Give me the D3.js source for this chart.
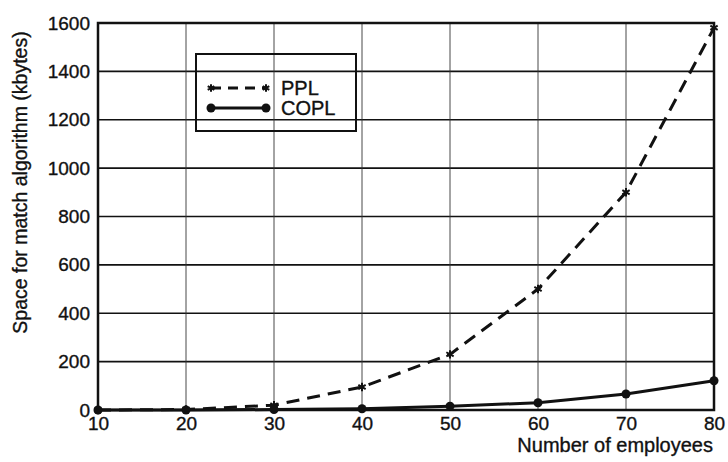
<!DOCTYPE html>
<html><head><meta charset="utf-8">
<script src="https://cdn.jsdelivr.net/npm/d3@7"></script>
<style>body{margin:0;background:#fff}svg{display:block}text{font-family:"Liberation Sans",Arial,sans-serif;fill:#111;stroke:#111;stroke-width:0.35px}</style>
</head><body><svg id="c" width="728" height="462"></svg>
<script>
const employees = [10, 20, 30, 40, 50, 60, 70, 80];
const ppl = [0, 2, 20, 95, 230, 500, 900, 1580];
const copl = [0, 0, 2, 5, 16, 30, 66, 121];
const xTicks = [10, 20, 30, 40, 50, 60, 70, 80];
const yTicks = [0, 200, 400, 600, 800, 1000, 1200, 1400, 1600];
const seriesNames = ["PPL", "COPL"];

const svg = d3.select("#c");
const m = {l: 98, r: 714, t: 23, b: 410};
const x = d3.scaleLinear().domain([10, 80]).range([m.l, m.r]);
const y = d3.scaleLinear().domain([0, 1600]).range([m.b, m.t]);
const FF = "Liberation Sans, Arial, sans-serif";

// gridlines
svg.append("g").selectAll("line").data(yTicks.slice(1, -1)).join("line")
  .attr("x1", m.l).attr("x2", m.r).attr("y1", d => y(d)).attr("y2", d => y(d))
  .attr("stroke", "#111").attr("stroke-width", 1.6);
svg.append("g").selectAll("line").data(xTicks.slice(1, -1)).join("line")
  .attr("y1", m.t).attr("y2", m.b).attr("x1", d => x(d)).attr("x2", d => x(d))
  .attr("stroke", "#333").attr("stroke-width", 0.9);

// frame
svg.append("rect").attr("x", m.l).attr("y", m.t).attr("width", m.r - m.l).attr("height", m.b - m.t)
  .attr("fill", "none").attr("stroke", "#111").attr("stroke-width", 2.5);

// axes (labels only)
const xa = svg.append("g").attr("transform", `translate(0,${m.b})`)
  .call(d3.axisBottom(x).tickValues(xTicks).tickSize(0).tickPadding(7).tickFormat(d3.format("d")));
xa.select(".domain").remove();
xa.attr("font-size", 19).attr("font-family", FF);
xa.selectAll("text").attr("fill", "#111");
const ya = svg.append("g").attr("transform", `translate(${m.l},0)`)
  .call(d3.axisLeft(y).tickValues(yTicks).tickSize(0).tickPadding(8).tickFormat(d3.format("d")));
ya.select(".domain").remove();
ya.attr("font-size", 19).attr("font-family", FF);
ya.selectAll("text").attr("fill", "#111");

// axis titles
svg.append("text").attr("x", m.r - 1).attr("y", 452).attr("text-anchor", "end")
  .attr("font-size", 20).text("Number of employees");
svg.append("text").attr("transform", `translate(27,${(25 + 340) / 2}) rotate(-90)`)
  .attr("text-anchor", "middle").attr("font-size", 19.5).text("Space for match algorithm (kbytes)");

// series
const line = d3.line().x(d => x(d[0])).y(d => y(d[1]));
const pplData = employees.map((e, i) => [e, ppl[i]]);
const coplData = employees.map((e, i) => [e, copl[i]]);

svg.append("path").datum(pplData).attr("d", line).attr("fill", "none")
  .attr("stroke", "#111").attr("stroke-width", 3).attr("stroke-dasharray", "13,8");
svg.append("path").datum(coplData).attr("d", line).attr("fill", "none")
  .attr("stroke", "#111").attr("stroke-width", 3);

const star = d3.symbol().type(d3.symbolAsterisk).size(50);
svg.append("g").selectAll("path").data(pplData).join("path")
  .attr("transform", d => `translate(${x(d[0])},${y(d[1])})`)
  .attr("d", star).attr("stroke", "#111").attr("stroke-width", 2).attr("fill", "none");
svg.append("g").selectAll("circle").data(coplData).join("circle")
  .attr("cx", d => x(d[0])).attr("cy", d => y(d[1])).attr("r", 4.5).attr("fill", "#111");

// legend
const lg = svg.append("g");
lg.append("rect").attr("x", 196).attr("y", 54).attr("width", 160).attr("height", 77)
  .attr("fill", "none").attr("stroke", "#111").attr("stroke-width", 2);
const ly = [88, 108];
lg.append("line").attr("x1", 211).attr("x2", 266).attr("y1", ly[0]).attr("y2", ly[0])
  .attr("stroke", "#111").attr("stroke-width", 3).attr("stroke-dasharray", "10,7");
lg.selectAll(".pm").data([211, 266]).join("path").attr("class", "pm")
  .attr("transform", d => `translate(${d},${ly[0]})`)
  .attr("d", d3.symbol().type(d3.symbolAsterisk).size(40)).attr("stroke", "#111").attr("stroke-width", 2);
lg.append("line").attr("x1", 211).attr("x2", 266).attr("y1", ly[1]).attr("y2", ly[1])
  .attr("stroke", "#111").attr("stroke-width", 3);
lg.selectAll(".cm").data([211, 266]).join("circle").attr("class", "cm")
  .attr("cx", d => d).attr("cy", ly[1]).attr("r", 4.5).attr("fill", "#111");
lg.selectAll(".lt").data(seriesNames).join("text").attr("class", "lt")
  .attr("x", 281).attr("y", (d, i) => ly[i] + 7).attr("font-size", 20).text(d => d);
</script></body></html>
